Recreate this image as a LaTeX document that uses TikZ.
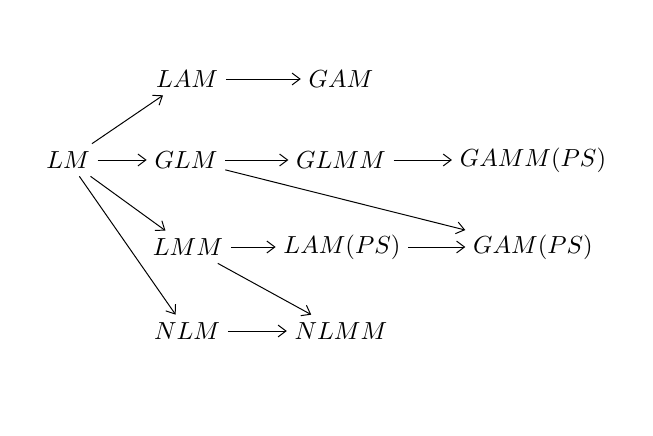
\documentclass[tikz,border=0pt]{standalone}
\usepackage{amsmath}
\usepackage{amssymb}
\usetikzlibrary{arrows.meta}

\begin{document}
\begin{tikzpicture}[x=0.405pt, y=-0.405pt, every node/.style={inner sep=3pt}, >={Straight Barb[length=3.2pt, width=4.8pt]}]
\useasboundingbox (0,0) rectangle (653,436);

% Models
\node (lm) at (68,160) {$LM$};
\node (lam) at (187,79) {$LAM$};
\node (gam) at (341,79) {$GAM$};
\node (glm) at (186,160) {$GLM$};
\node (glmm) at (341,160) {$GLMM$};
\node (gammps) at (533,160) {$GAMM(PS)$};
\node (lmm) at (188,247) {$LMM$};
\node (lamps) at (342,247) {$LAM(PS)$};
\node (gamps) at (533,247) {$GAM(PS)$};
\node (nlm) at (187,331) {$NLM$};
\node (nlmm) at (341,331) {$NLMM$};

% Extensions
\foreach \a/\b in {lm/lam, lm/glm, lm/lmm, lm/nlm, lam/gam, glm/glmm, glmm/gammps, glm/gamps, lmm/lamps, lamps/gamps, lmm/nlmm, nlm/nlmm}
	\draw[->] (\a) -- (\b);
\end{tikzpicture}
\end{document}
